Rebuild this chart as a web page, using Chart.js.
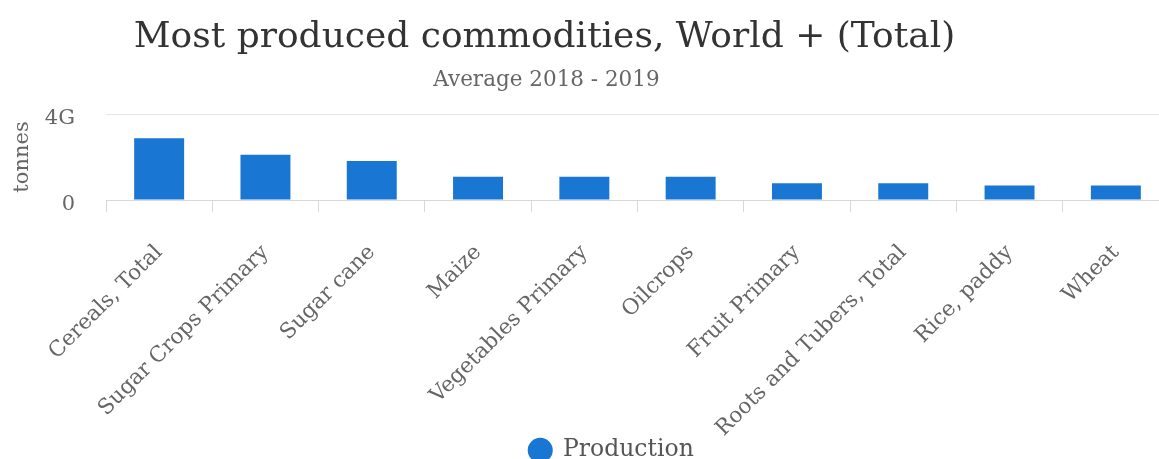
<!DOCTYPE html>
<html>
<head>
<meta charset="utf-8">
<title>Most produced commodities</title>
<script src="https://cdn.jsdelivr.net/npm/chart.js@4/dist/chart.umd.min.js"></script>
<style>
  html, body { margin: 0; padding: 0; overflow: hidden; background: #fff; }
  #wrap { width: 1175px; height: 472px; }
</style>
</head>
<body>
<div id="wrap"><canvas id="chart" width="1175" height="472"></canvas></div>
<script>
const commodities = [
  'Cereals, Total', 'Sugar Crops Primary', 'Sugar cane', 'Maize', 'Vegetables Primary',
  'Oilcrops', 'Fruit Primary', 'Roots and Tubers, Total', 'Rice, paddy', 'Wheat',
]
// tonnes, average 2018 - 2019
const production = [2.87e9, 2.11e9, 1.81e9, 1.08e9, 1.08e9, 1.08e9, 0.78e9, 0.78e9, 0.68e9, 0.68e9]
const yTicks = [0, 4e9]

const font = 'DejaVu Serif'

// nudge title, subtitle and legend sideways after layout,
// and let the long x labels run down past the legend's top
const shifts = { 2000: -40, 1500: -38, 1000: 27 }
const shiftBoxes = {
  id: 'shiftBoxes',
  afterLayout(chart) {
    chart.boxes.forEach((b) => {
      const dx = shifts[b.weight]
      if (dx && (b.position === 'top' || b.position === 'bottom')) {
        b.left += dx
        b.right += dx
      }
    })
    chart.scales.x.bottom = chart.height
  },
}

new Chart(document.getElementById('chart'), {
  type: 'bar',
  data: {
    labels: commodities,
    datasets: [
      {
        label: 'Production',
        data: production,
        backgroundColor: '#1976d2',
        borderWidth: 0,
        categoryPercentage: 1,
        barPercentage: 0.47,
      },
    ],
  },
  options: {
    responsive: false,
    animation: false,
    layout: { padding: { left: 0, right: 6, top: 0, bottom: 0 } },
    plugins: {
      title: {
        display: true,
        text: 'Most produced commodities, World + (Total)',
        color: '#333333',
        font: { family: font, size: 36, weight: 'normal' },
        padding: { top: 16, bottom: 0 },
        weight: 2000,
      },
      subtitle: {
        display: true,
        text: 'Average 2018 - 2019',
        color: '#666666',
        font: { family: font, size: 21.5, weight: 'normal' },
        padding: { top: 8.3, bottom: 20.7 },
        weight: 1500,
      },
      legend: {
        position: 'bottom',
        weight: 1000,
        labels: {
          usePointStyle: true,
          pointStyle: 'circle',
          boxWidth: 22,
          boxHeight: 17.7,
          padding: 10,
          color: '#555555',
          font: { family: font, size: 23.5 },
        },
      },
      tooltip: { enabled: false },
    },
    scales: {
      x: {
        grid: {
          offset: true,
          drawOnChartArea: false,
          drawTicks: true,
          tickLength: 12,
          color: '#d8d8d8',
        },
        border: { color: '#d8d8d8', width: 1 },
        ticks: {
          minRotation: 45,
          maxRotation: 45,
          autoSkip: false,
          padding: 28,
          color: '#666666',
          font: { family: font, size: 21.5 },
        },
        afterFit(scale) {
          scale.height = 228.5
        },
      },
      y: {
        min: 0,
        max: 4e9,
        afterBuildTicks(scale) {
          scale.ticks = yTicks.map((v) => ({ value: v }))
        },
        grid: { color: '#e6e6e6', drawTicks: false },
        border: { display: false },
        ticks: {
          padding: 31,
          labelOffset: 5,
          color: '#666666',
          font: { family: font, size: 21 },
          callback: (v) => (v === 0 ? '0' : v / 1e9 + 'G'),
        },
        title: {
          display: true,
          text: 'tonnes',
          color: '#666666',
          font: { family: font, size: 21 },
          padding: { top: 10, bottom: 0 },
        },
        afterFit(scale) {
          scale.width = 106
        },
      },
    },
  },
  plugins: [shiftBoxes],
})
</script>
</body>
</html>
